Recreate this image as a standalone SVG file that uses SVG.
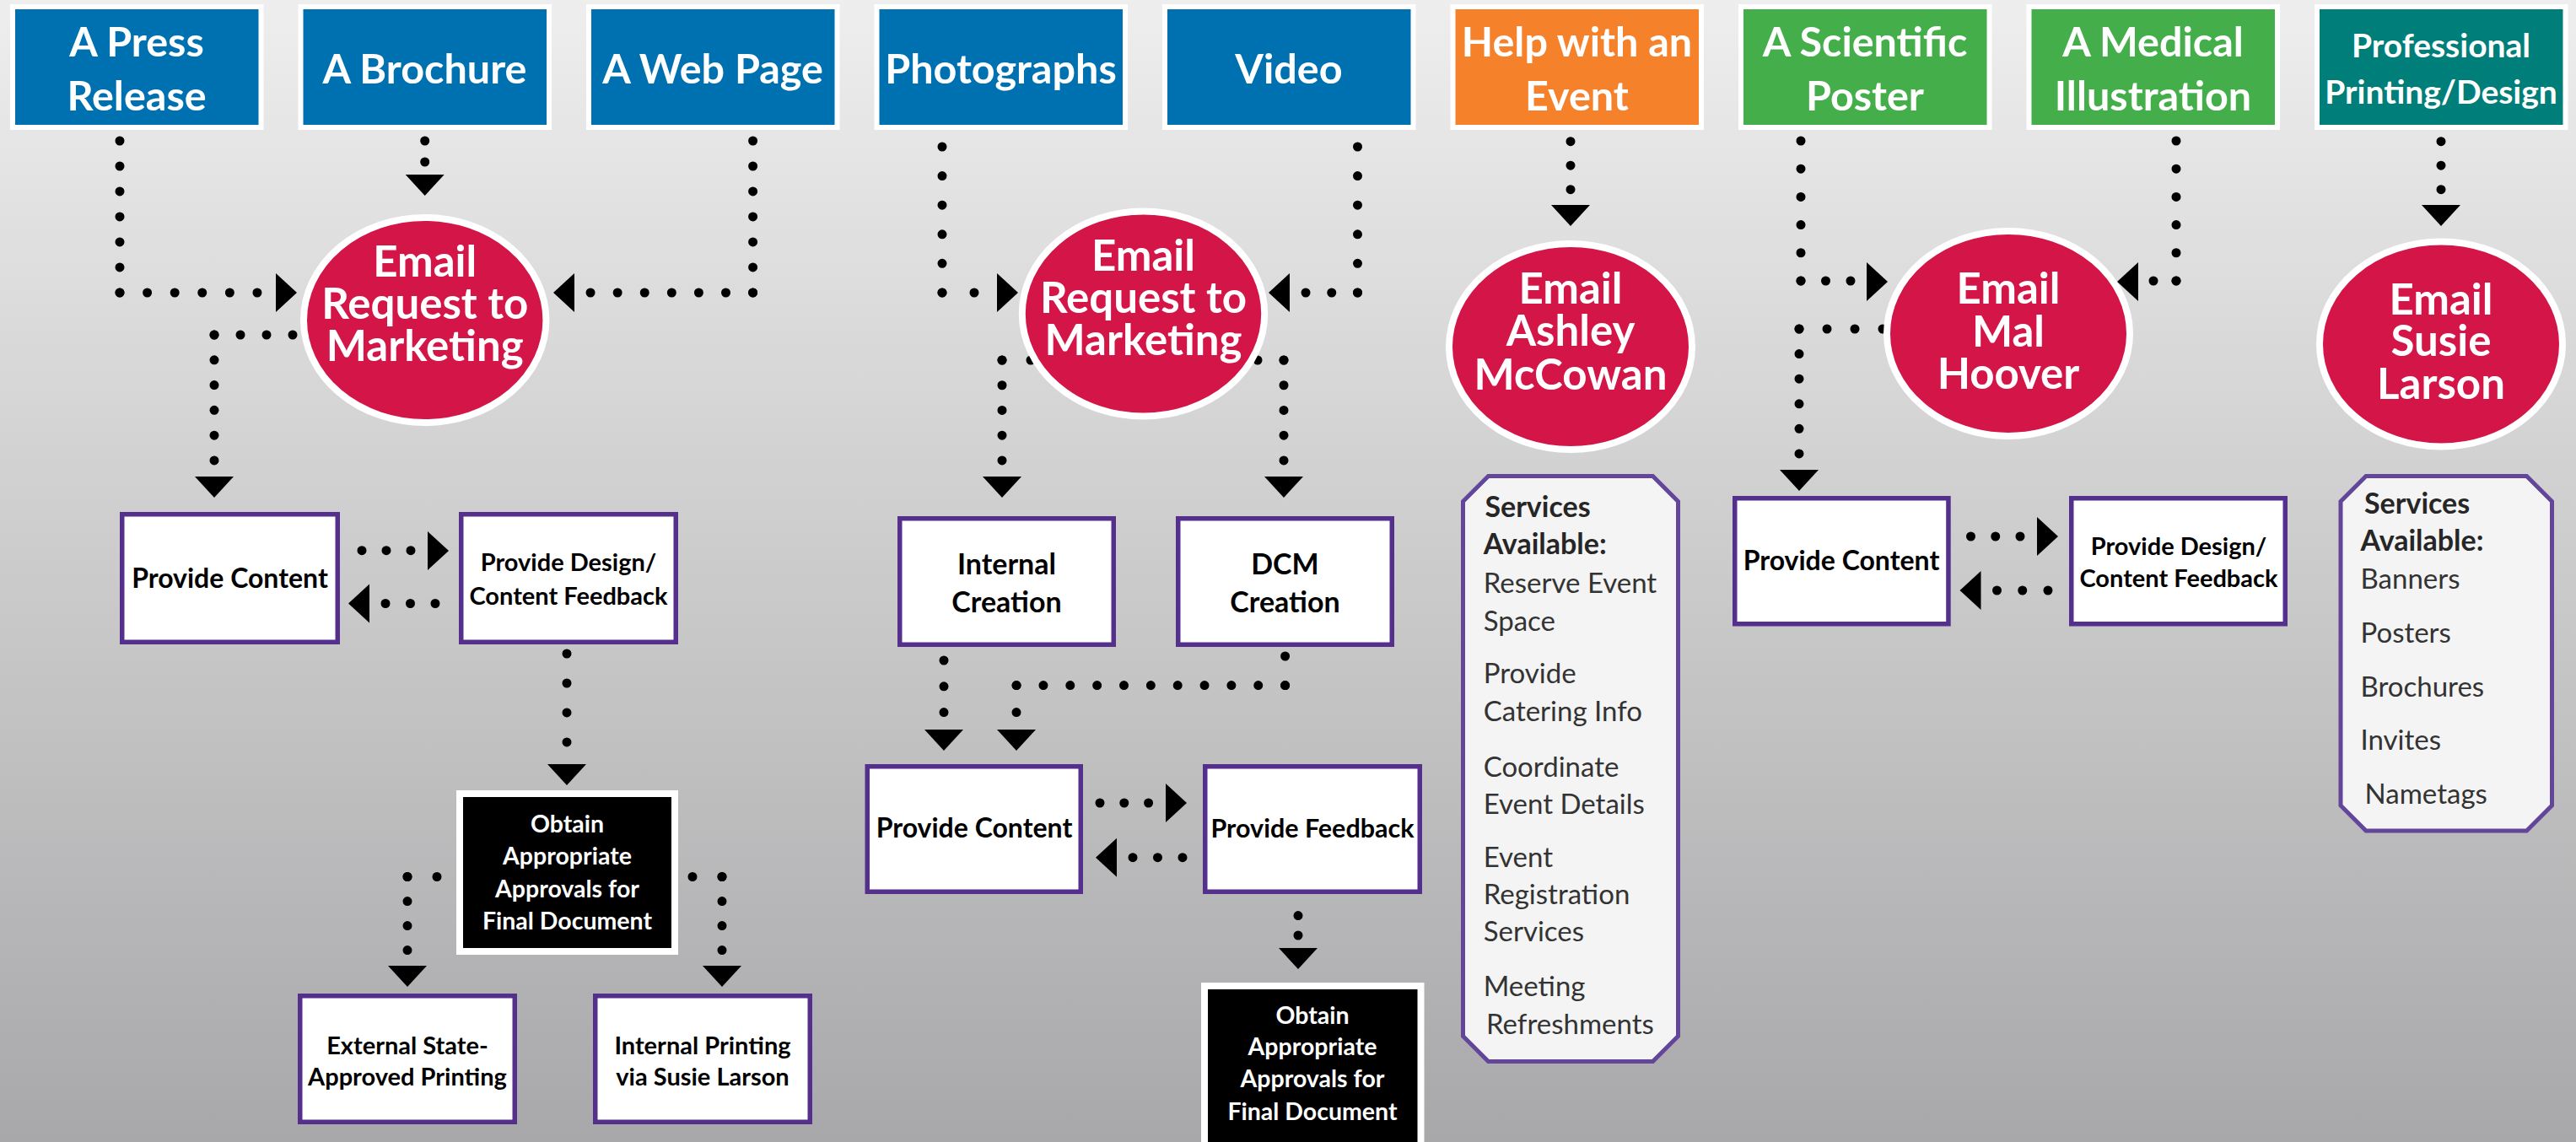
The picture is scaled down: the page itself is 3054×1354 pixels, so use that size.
<svg xmlns="http://www.w3.org/2000/svg" width="3054" height="1354" viewBox="0 0 3054 1354">
<defs>
<linearGradient id="bg" x1="0" y1="0" x2="0" y2="1">
<stop offset="0" stop-color="#EEEEEE"/>
<stop offset="1" stop-color="#A8A8AA"/>
</linearGradient>
</defs>
<style>
.src{stroke:#fff;stroke-width:6}
.blue{fill:#0071B0}.orange{fill:#F5822A}.green{fill:#43AE4A}.teal{fill:#007F7A}
.ell{fill:#D31547;stroke:#fff;stroke-width:8}
.pbox{fill:#fff;stroke:#54308C;stroke-width:5.5}
.bbox{fill:#000;stroke:#fff;stroke-width:8}
.svcbox{fill:#F4F4F4;stroke:#63459A;stroke-width:5}
text{font-family:Lato,"Open Sans",sans-serif}
.tt{font-weight:700;font-size:48.5px;fill:#fff;text-anchor:middle}
.tts{font-weight:700;font-size:39px;fill:#fff;text-anchor:middle}
.et{font-weight:700;font-size:51px;fill:#fff;text-anchor:middle}
.bt{font-weight:700;font-size:32px;fill:#000;text-anchor:middle}
.bc{font-weight:700;font-size:34px;fill:#000;text-anchor:middle}
.bf{font-weight:700;font-size:30.5px;fill:#000;text-anchor:middle}
.bts{font-weight:700;font-size:29px;fill:#000;text-anchor:middle}
.wt{font-weight:700;font-size:28.5px;fill:#fff;text-anchor:middle}
.sh{font-weight:700;font-size:34px;fill:#262626}
.si{font-weight:400;font-size:33px;fill:#333}
.dot{stroke:#000;stroke-width:11;stroke-linecap:round;fill:none}
.ah{fill:#000}
</style>
<rect width="3054" height="1354" fill="url(#bg)"/>

<g id="connectors">
<line class="dot" x1="142" y1="167" x2="142" y2="347" stroke-dasharray="0 29.99"/>
<line class="dot" x1="142" y1="347" x2="305" y2="347" stroke-dasharray="0 32.59"/>
<line class="dot" x1="503.7" y1="167" x2="503.7" y2="192" stroke-dasharray="0 24.99"/>
<line class="dot" x1="892.6" y1="167" x2="892.6" y2="347" stroke-dasharray="0 29.99"/>
<line class="dot" x1="892.6" y1="347" x2="700" y2="347" stroke-dasharray="0 32.09"/>
<line class="dot" x1="347" y1="397" x2="254" y2="397" stroke-dasharray="0 30.99"/>
<line class="dot" x1="254" y1="397" x2="254" y2="546" stroke-dasharray="0 29.79"/>
<line class="dot" x1="429" y1="652.7" x2="487" y2="652.7" stroke-dasharray="0 28.99"/>
<line class="dot" x1="457" y1="715.5" x2="516" y2="715.5" stroke-dasharray="0 29.49"/>
<line class="dot" x1="672" y1="775" x2="672" y2="880" stroke-dasharray="0 34.99"/>
<line class="dot" x1="518" y1="1039.5" x2="483" y2="1039.5" stroke-dasharray="0 34.99"/>
<line class="dot" x1="483" y1="1039.5" x2="483" y2="1126.6" stroke-dasharray="0 29.02"/>
<line class="dot" x1="821" y1="1039.5" x2="856" y2="1039.5" stroke-dasharray="0 34.99"/>
<line class="dot" x1="856" y1="1039.5" x2="856" y2="1126.6" stroke-dasharray="0 29.02"/>
<line class="dot" x1="1117" y1="174" x2="1117" y2="347" stroke-dasharray="0 34.59"/>
<line class="dot" x1="1117" y1="347" x2="1155" y2="347" stroke-dasharray="0 37.99"/>
<line class="dot" x1="1609.5" y1="174" x2="1609.5" y2="347" stroke-dasharray="0 34.59"/>
<line class="dot" x1="1609.5" y1="347" x2="1548" y2="347" stroke-dasharray="0 30.74"/>
<line class="dot" x1="1222" y1="427" x2="1188" y2="427" stroke-dasharray="0 33.99"/>
<line class="dot" x1="1188" y1="427" x2="1188" y2="546" stroke-dasharray="0 29.74"/>
<line class="dot" x1="1491" y1="427" x2="1522" y2="427" stroke-dasharray="0 30.99"/>
<line class="dot" x1="1522" y1="427" x2="1522" y2="546" stroke-dasharray="0 29.74"/>
<line class="dot" x1="1119" y1="783" x2="1119" y2="844.6" stroke-dasharray="0 30.79"/>
<line class="dot" x1="1523.6" y1="778" x2="1523.6" y2="812.6" stroke-dasharray="0 34.59"/>
<line class="dot" x1="1523.6" y1="812.6" x2="1205" y2="812.6" stroke-dasharray="0 31.85"/>
<line class="dot" x1="1205" y1="812.6" x2="1205" y2="844.6" stroke-dasharray="0 31.99"/>
<line class="dot" x1="1304" y1="952" x2="1361.6" y2="952" stroke-dasharray="0 28.79"/>
<line class="dot" x1="1343" y1="1016.7" x2="1402" y2="1016.7" stroke-dasharray="0 29.49"/>
<line class="dot" x1="1539" y1="1085.6" x2="1539" y2="1109" stroke-dasharray="0 23.39"/>
<line class="dot" x1="1862" y1="167.7" x2="1862" y2="224.7" stroke-dasharray="0 28.49"/>
<line class="dot" x1="2135" y1="167" x2="2135" y2="333" stroke-dasharray="0 33.19"/>
<line class="dot" x1="2135" y1="333" x2="2194" y2="333" stroke-dasharray="0 29.49"/>
<line class="dot" x1="2580" y1="167" x2="2580" y2="333" stroke-dasharray="0 33.19"/>
<line class="dot" x1="2580" y1="333" x2="2553" y2="333" stroke-dasharray="0 26.99"/>
<line class="dot" x1="2232" y1="390" x2="2133" y2="390" stroke-dasharray="0 32.99"/>
<line class="dot" x1="2133" y1="390" x2="2133" y2="538" stroke-dasharray="0 29.59"/>
<line class="dot" x1="2336.5" y1="636" x2="2395" y2="636" stroke-dasharray="0 29.24"/>
<line class="dot" x1="2367.5" y1="700" x2="2428" y2="700" stroke-dasharray="0 30.24"/>
<line class="dot" x1="2894" y1="167.7" x2="2894" y2="224.7" stroke-dasharray="0 28.49"/>

<polygon class="ah" points="480.7,207 526.7,207 503.7,232"/>
<polygon class="ah" points="231,565 277,565 254,590"/>
<polygon class="ah" points="649,906 695,906 672,931"/>
<polygon class="ah" points="460,1145 506,1145 483,1170"/>
<polygon class="ah" points="833,1145 879,1145 856,1170"/>
<polygon class="ah" points="1165,565 1211,565 1188,590"/>
<polygon class="ah" points="1499,565 1545,565 1522,590"/>
<polygon class="ah" points="1096,865 1142,865 1119,890"/>
<polygon class="ah" points="1182,865 1228,865 1205,890"/>
<polygon class="ah" points="1516,1124 1562,1124 1539,1149"/>
<polygon class="ah" points="1839,243 1885,243 1862,268"/>
<polygon class="ah" points="2110,557 2156,557 2133,582"/>
<polygon class="ah" points="2871,243 2917,243 2894,268"/>
<polygon class="ah" points="327,324 327,370 352,347"/>
<polygon class="ah" points="507,630 507,676 532,653"/>
<polygon class="ah" points="1182,324 1182,370 1207,347"/>
<polygon class="ah" points="1382,929 1382,975 1407,952"/>
<polygon class="ah" points="2213,311 2213,357 2238,334"/>
<polygon class="ah" points="2415,613 2415,659 2440,636"/>
<polygon class="ah" points="681,324 681,370 656,347"/>
<polygon class="ah" points="438,692.5 438,738.5 413,715.5"/>
<polygon class="ah" points="1529,324 1529,370 1504,347"/>
<polygon class="ah" points="1324,993.7 1324,1039.7 1299,1016.7"/>
<polygon class="ah" points="2535,311 2535,357 2510,334"/>
<polygon class="ah" points="2348.5,677 2348.5,723 2323.5,700"/>
</g>

<g id="press-release"><rect class="src blue" x="15" y="8" width="294.5" height="143"/><text class="tt" x="162" y="67">A Press</text><text class="tt" x="162" y="131">Release</text></g>
<g id="brochure"><rect class="src blue" x="356.5" y="8" width="294.5" height="143"/><text class="tt" x="503.5" y="99">A Brochure</text></g>
<g id="web-page"><rect class="src blue" x="698" y="8" width="294.5" height="143"/><text class="tt" x="845" y="99">A Web Page</text></g>
<g id="photographs"><rect class="src blue" x="1039.5" y="8" width="294.5" height="143"/><text class="tt" x="1186.5" y="99">Photographs</text></g>
<g id="video"><rect class="src blue" x="1381" y="8" width="294.5" height="143"/><text class="tt" x="1528" y="99">Video</text></g>
<g id="event"><rect class="src orange" x="1722.5" y="8" width="294.5" height="143"/><text class="tt" x="1869.5" y="67">Help with an</text><text class="tt" x="1869.5" y="131">Event</text></g>
<g id="scientific-poster"><rect class="src green" x="2064" y="8" width="294.5" height="143"/><text class="tt" x="2211" y="67">A Scientific</text><text class="tt" x="2211" y="131">Poster</text></g>
<g id="medical-illustration"><rect class="src green" x="2405.5" y="8" width="294.5" height="143"/><text class="tt" x="2552.5" y="67">A Medical</text><text class="tt" x="2552.5" y="131">Illustration</text></g>
<g id="printing-design"><rect class="src teal" x="2747" y="8" width="294.5" height="143"/><text class="tts" x="2894" y="68">Professional</text><text class="tts" x="2894" y="123">Printing/Design</text></g>

<g id="email-marketing-1"><ellipse class="ell" cx="503.7" cy="379.5" rx="143.7" ry="121.5"/><text class="et" x="503.7" y="328">Email</text><text class="et" x="503.7" y="378">Request to</text><text class="et" x="503.7" y="428">Marketing</text></g>
<g id="email-marketing-2"><ellipse class="ell" cx="1355.5" cy="372" rx="143.7" ry="121.5"/><text class="et" x="1355.5" y="320.7">Email</text><text class="et" x="1355.5" y="370.7">Request to</text><text class="et" x="1355.5" y="420.7">Marketing</text></g>
<g id="email-ashley"><ellipse class="ell" cx="1862" cy="411" rx="144" ry="122"/><text class="et" x="1862" y="360">Email</text><text class="et" x="1862" y="410">Ashley</text><text class="et" x="1862" y="461.7">McCowan</text></g>
<g id="email-mal"><ellipse class="ell" cx="2381" cy="395.4" rx="144" ry="121.5"/><text class="et" x="2381" y="360">Email</text><text class="et" x="2381" y="410.7">Mal</text><text class="et" x="2381" y="460.7">Hoover</text></g>
<g id="email-susie"><ellipse class="ell" cx="2894" cy="408" rx="144" ry="121.5"/><text class="et" x="2894" y="372.7">Email</text><text class="et" x="2894" y="421.7">Susie</text><text class="et" x="2894" y="473.3">Larson</text></g>

<g id="provide-content-1"><rect class="pbox" x="144.75" y="609.75" width="255.5" height="151.5"/><text class="bt" x="272.5" y="697">Provide Content</text></g>
<g id="design-feedback-1"><rect class="pbox" x="546.75" y="609.75" width="254.5" height="151.5"/><text class="bts" x="674" y="677">Provide Design/</text><text class="bts" x="674" y="717">Content Feedback</text></g>
<g id="approvals-1"><rect class="bbox" x="545" y="941" width="255" height="187"/><text class="wt" x="672.5" y="987">Obtain</text><text class="wt" x="672.5" y="1025">Appropriate</text><text class="wt" x="672.5" y="1064">Approvals for</text><text class="wt" x="672.5" y="1102">Final Document</text></g>
<g id="external-printing"><rect class="pbox" x="355.75" y="1180.75" width="254.5" height="149.5"/><text class="bts" x="483" y="1250">External State-</text><text class="bts" x="483" y="1287">Approved Printing</text></g>
<g id="internal-printing"><rect class="pbox" x="705.75" y="1180.75" width="254.5" height="149.5"/><text class="bts" x="833" y="1250">Internal Printing</text><text class="bts" x="833" y="1287">via Susie Larson</text></g>

<g id="internal-creation"><rect class="pbox" x="1066.75" y="614.75" width="253.5" height="149.5"/><text class="bc" x="1193.5" y="680.5">Internal</text><text class="bc" x="1193.5" y="725.6">Creation</text></g>
<g id="dcm-creation"><rect class="pbox" x="1396.75" y="614.75" width="253.5" height="149.5"/><text class="bc" x="1523.5" y="680.5">DCM</text><text class="bc" x="1523.5" y="725.6">Creation</text></g>
<g id="provide-content-2"><rect class="pbox" x="1028.25" y="908.75" width="253" height="148.5"/><text class="bt" x="1155" y="993">Provide Content</text></g>
<g id="provide-feedback"><rect class="pbox" x="1428.75" y="908.75" width="254.5" height="148.5"/><text class="bf" x="1556" y="993">Provide Feedback</text></g>
<g id="approvals-2"><rect class="bbox" x="1428" y="1169" width="256.5" height="250"/><text class="wt" x="1556" y="1214">Obtain</text><text class="wt" x="1556" y="1251">Appropriate</text><text class="wt" x="1556" y="1289">Approvals for</text><text class="wt" x="1556" y="1328">Final Document</text></g>

<g id="event-services"><polygon class="svcbox" points="1764.5,564.5 1959.5,564.5 1989.5,594.5 1989.5,1228.5 1959.5,1258.5 1764.5,1258.5 1734.5,1228.5 1734.5,594.5"/>
<text class="sh" x="1760.4" y="612.7">Services</text>
<text class="sh" x="1758.7" y="657">Available:</text>
<text class="si" x="1758.7" y="702.5">Reserve Event</text>
<text class="si" x="1758.7" y="747.7">Space</text>
<text class="si" x="1758.7" y="810">Provide</text>
<text class="si" x="1758.7" y="855">Catering Info</text>
<text class="si" x="1758.7" y="920.6">Coordinate</text>
<text class="si" x="1758.7" y="964.7">Event Details</text>
<text class="si" x="1758.7" y="1028">Event</text>
<text class="si" x="1758.7" y="1072">Registration</text>
<text class="si" x="1758.7" y="1116">Services</text>
<text class="si" x="1758.7" y="1181">Meeting</text>
<text class="si" x="1762" y="1226">Refreshments</text>
</g>

<g id="provide-content-3"><rect class="pbox" x="2056.75" y="590.75" width="253.2" height="149"/><text class="bt" x="2183" y="676">Provide Content</text></g>
<g id="design-feedback-3"><rect class="pbox" x="2455.75" y="590.75" width="253.5" height="149"/><text class="bts" x="2583" y="658">Provide Design/</text><text class="bts" x="2583" y="696">Content Feedback</text></g>

<g id="printing-services"><polygon class="svcbox" points="2805,564.5 2995.5,564.5 3025.5,594.5 3025.5,955 2995.5,985 2805,985 2775,955 2775,594.5"/>
<text class="sh" x="2803" y="608.5">Services</text>
<text class="sh" x="2798.5" y="652.7">Available:</text>
<text class="si" x="2798.5" y="698">Banners</text>
<text class="si" x="2798.5" y="762">Posters</text>
<text class="si" x="2798.5" y="825.6">Brochures</text>
<text class="si" x="2798.5" y="889">Invites</text>
<text class="si" x="2803.6" y="953">Nametags</text>
</g>
</svg>
